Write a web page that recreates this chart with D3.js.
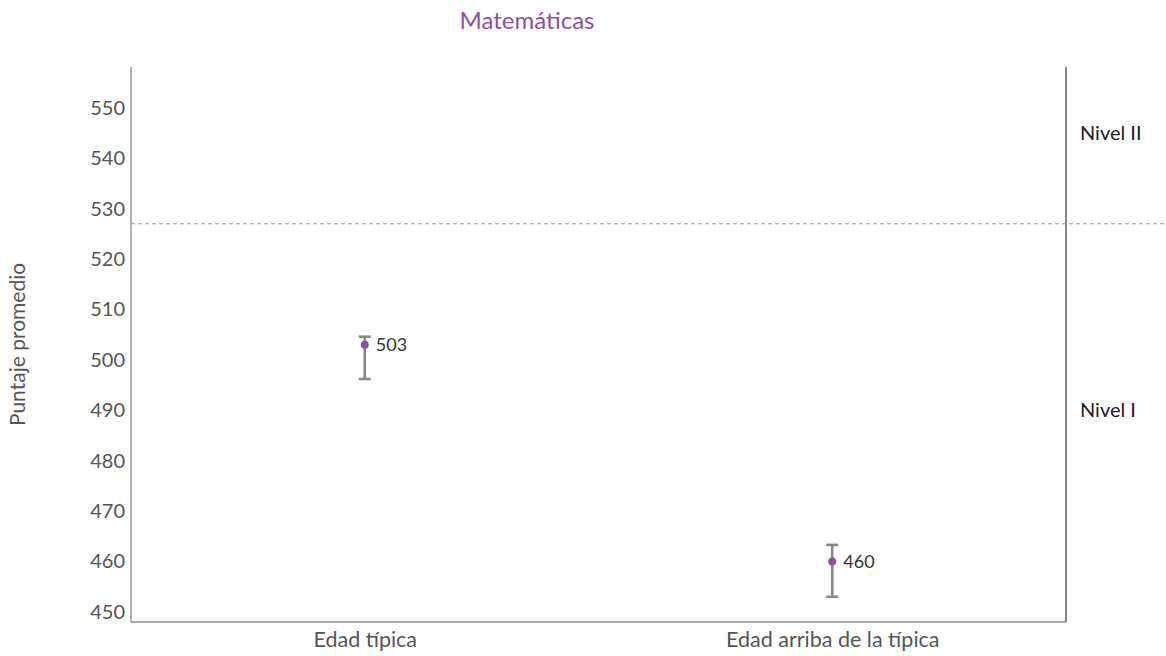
<!DOCTYPE html>
<html>
<head>
<meta charset="utf-8">
<script src="https://cdn.jsdelivr.net/npm/d3@7"></script>
<style>
  html, body { margin: 0; padding: 0; background: #fff; }
  svg { display: block; font-family: Lato, "Open Sans", sans-serif; }
</style>
</head>
<body>
<svg id="chart" width="1166" height="656"></svg>
<script>
// Puntaje promedio en Matemáticas por grupo de edad
const categories = ["Edad típica", "Edad arriba de la típica"];
const means = [503, 460];
const lower = [496.2, 453.0];
const upper = [504.6, 463.3];
const yTicks = [450, 460, 470, 480, 490, 500, 510, 520, 530, 540, 550];
const levelCut = [527];
const levelNames = ["Nivel II", "Nivel I"];
const levelLabelValues = [545, 490];

const svg = d3.select("#chart");
const W = 1166, H = 656;
const m = { left: 131, right: 100, top: 67, bottom: 34 };

const x = d3.scalePoint().domain(categories).range([m.left, W - m.right]).padding(0.5);
const y = d3.scaleLinear().domain([448, 558.1]).range([H - m.bottom, m.top]);

const purple = "#8f4fa3";

// Title
svg.append("text")
  .attr("x", 527).attr("y", 29)
  .attr("text-anchor", "middle")
  .attr("font-size", 24)
  .attr("fill", purple)
  .text("Matemáticas");

// Y axis title
svg.append("text")
  .attr("transform", `translate(25,${(m.top + H - m.bottom) / 2})`+" rotate(-90)")
  .attr("text-anchor", "middle")
  .attr("font-size", 21)
  .attr("fill", "#555")
  .text("Puntaje promedio");

// Y axis
const yAxis = svg.append("g")
  .attr("transform", `translate(${m.left},0)`)
  .call(d3.axisLeft(y).tickValues(yTicks).tickSize(0).tickPadding(6));
yAxis.select(".domain").attr("stroke", "#888").attr("stroke-width", 1.3)
  .attr("d", `M0,${m.top}V${H - m.bottom}`);
yAxis.selectAll("text").attr("font-size", 20).attr("fill", "#555")
  .attr("font-family", "Lato, sans-serif");

// X axis
const xAxis = svg.append("g")
  .attr("transform", `translate(0,${H - m.bottom})`)
  .call(d3.axisBottom(x).tickSize(0).tickPadding(10));
xAxis.select(".domain").attr("stroke", "#888").attr("stroke-width", 1.3)
  .attr("d", `M${m.left},0H${W - m.right}`);
xAxis.selectAll("text").attr("font-size", 21.5).attr("fill", "#555")
  .attr("font-family", "Lato, sans-serif");

// Right separator line
svg.append("line")
  .attr("x1", W - m.right).attr("x2", W - m.right)
  .attr("y1", m.top).attr("y2", H - m.bottom)
  .attr("stroke", "#444").attr("stroke-width", 1.3);

// Level cut line
svg.selectAll(".cut").data(levelCut).join("line")
  .attr("class", "cut")
  .attr("x1", m.left).attr("x2", W)
  .attr("y1", d => y(d)).attr("y2", d => y(d))
  .attr("stroke", "#bb7fd4").attr("stroke-width", 1.2)
  .attr("stroke-dasharray", "4,3");

// Level labels
svg.selectAll(".lvl").data(levelNames).join("text")
  .attr("class", "lvl")
  .attr("x", 1080)
  .attr("y", (d, i) => y(levelLabelValues[i]) + 7)
  .attr("font-size", 20)
  .attr("fill", "#222")
  .text(d => d);

// Error bars
const cap = 6;
const g = svg.selectAll(".pt").data(categories).join("g").attr("class", "pt");
g.append("line")
  .attr("x1", d => x(d)).attr("x2", d => x(d))
  .attr("y1", (d, i) => y(lower[i])).attr("y2", (d, i) => y(upper[i]))
  .attr("stroke", "#888").attr("stroke-width", 2.6);
g.append("line")
  .attr("x1", d => x(d) - cap).attr("x2", d => x(d) + cap)
  .attr("y1", (d, i) => y(upper[i])).attr("y2", (d, i) => y(upper[i]))
  .attr("stroke", "#888").attr("stroke-width", 2.6);
g.append("line")
  .attr("x1", d => x(d) - cap).attr("x2", d => x(d) + cap)
  .attr("y1", (d, i) => y(lower[i])).attr("y2", (d, i) => y(lower[i]))
  .attr("stroke", "#888").attr("stroke-width", 2.6);
g.append("circle")
  .attr("cx", d => x(d)).attr("cy", (d, i) => y(means[i]))
  .attr("r", 4).attr("fill", purple);
g.append("text")
  .attr("x", d => x(d) + 11).attr("y", (d, i) => y(means[i]) + 6)
  .attr("font-size", 18).attr("fill", "#333")
  .text((d, i) => means[i]);
</script>
</body>
</html>
